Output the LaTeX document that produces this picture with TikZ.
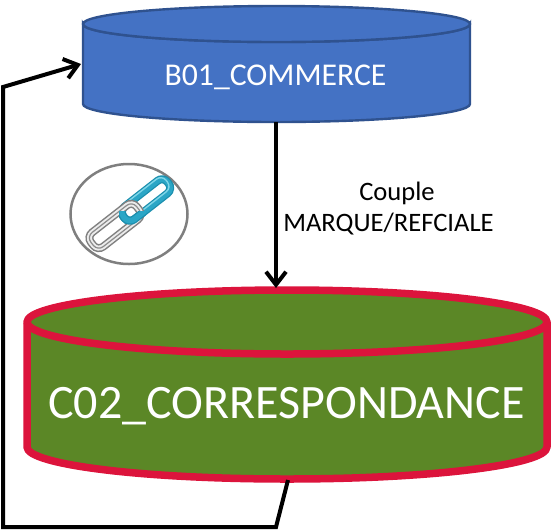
\documentclass[tikz,border=0pt]{standalone}
\usepackage{fontspec}
\setmainfont{Carlito}
\usetikzlibrary{arrows.meta}
\definecolor{blueface}{HTML}{4472C4}
\definecolor{blueline}{HTML}{2F528F}
\definecolor{greenface}{HTML}{5B8726}
\definecolor{redline}{HTML}{DC143C}
\definecolor{ringgray}{HTML}{7F7F7F}
\definecolor{linkblue}{HTML}{2BA6C6}
\definecolor{linkdark}{HTML}{1B8FAE}
\definecolor{linklight}{HTML}{7FD6E8}
\tikzset{
  x=1pt,y=-1pt,
  flow/.style={line width=4pt,black,line join=miter,-{Straight Barb[length=13pt,width=20pt,line width=4pt]}},
  blueCyl/.style={fill=blueface,draw=blueline,line width=2.4pt},
  redCyl/.style={fill=greenface,draw=redline,line width=7.5pt,line join=round},
  lbl/.style={inner sep=0pt,align=center},
  bluelinkA/.style={linkdark,line width=8pt,rounded corners=7pt},
  bluelinkB/.style={linkblue,line width=5.5pt,rounded corners=7pt},
  bluelinkC/.style={linklight,line width=1.4pt,rounded corners=7pt},
  greylinkA/.style={gray,line width=8pt,rounded corners=7pt},
  greylinkB/.style={white!85!gray,line width=5pt,rounded corners=7pt},
  greylinkC/.style={gray!90,line width=1.2pt,rounded corners=7pt},
}
\begin{document}
\begin{tikzpicture}
\useasboundingbox (0,0) rectangle (551,531);
% top cylinder
\draw[blueCyl] (83,24) -- (83,104) arc[start angle=180,end angle=360,x radius=193.5,y radius=-18] -- (470,24) arc[start angle=0,end angle=-180,x radius=193.5,y radius=-18] -- cycle;
\draw[blueCyl] (276.5,24) ellipse[x radius=193.5,y radius=18];
\coordinate (topBottom) at (276,122);
\node[lbl,text=white,font=\fontsize{31.7}{34}\selectfont] (b01) at (275.5,77) {B01\_COMMERCE};
% bottom cylinder
\draw[redCyl] (27,322) -- (27,447) arc[start angle=180,end angle=360,x radius=260,y radius=-32] -- (547,322) arc[start angle=0,end angle=180,x radius=260,y radius=-32] -- cycle;
\draw[redCyl,fill=none] (27,322) arc[start angle=180,end angle=360,x radius=260,y radius=-32];
\coordinate (botTop) at (276,288);
\coordinate (botBottom) at (288,480);
\node[lbl,text=white,font=\fontsize{48}{52}\selectfont] (c02) at (286.5,406) {C02\_CORRESPONDANCE};
% label
\node[lbl,anchor=base,font=\fontsize{26.6}{30}\selectfont] (couple) at (397,200) {Couple};
\node[lbl,anchor=base,font=\fontsize{26.6}{30}\selectfont] (marque) at (388.5,231) {MARQUE/REFCIALE};
% connectors
\draw[flow] (topBottom) -- (botTop);
\coordinate (c1) at (276,527);
\coordinate (c2) at (3,527);
\coordinate (c3) at (3,87);
\coordinate (topLeft) at (81,64);
\draw[flow] (botBottom) -- (c1) -- (c2) -- (c3) -- (topLeft);
% link icon
\draw[ringgray,line width=2.5pt,fill=white] (129,214) ellipse[x radius=58.5,y radius=50];
\begin{scope}[shift={(146,200)},rotate=38]
  \draw[bluelinkA] (-28,-8) rectangle (28,8);
  \draw[bluelinkB] (-28,-8) rectangle (28,8);
  \draw[bluelinkC] (-28,-10) rectangle (28,6);
\end{scope}
\begin{scope}[shift={(115,226)},rotate=38]
  \draw[greylinkA] (-29,-9) rectangle (29,9);
  \draw[greylinkB] (-29,-9) rectangle (29,9);
  \draw[greylinkC] (-29,-9) rectangle (29,9);
\end{scope}
\begin{scope}
  \clip (119,211) rectangle (146,226);
  \begin{scope}[shift={(146,200)},rotate=38]
    \draw[bluelinkA] (-28,-8) rectangle (28,8);
    \draw[bluelinkB] (-28,-8) rectangle (28,8);
  \end{scope}
\end{scope}
\end{tikzpicture}
\end{document}
